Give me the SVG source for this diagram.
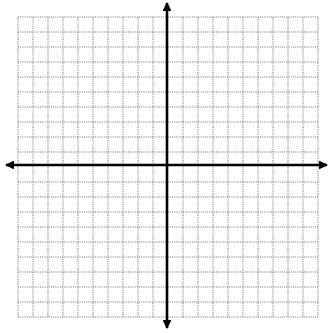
<svg xmlns="http://www.w3.org/2000/svg" width="330" height="333" viewBox="0 0 330 333">
<defs>
<style>
.g{stroke:#707070;stroke-width:1;stroke-dasharray:1 1.2;fill:none}
.ax{stroke:#000;stroke-width:2.6;fill:none}
</style>
<marker id="ah" viewBox="0 0 10 10" refX="9" refY="5" markerWidth="3.4" markerHeight="3.4" orient="auto-start-reverse" markerUnits="strokeWidth">
<path d="M0,0 L10,5 L0,10 Z" fill="#000"/>
</marker>
</defs>
<rect width="330" height="333" fill="#fff"/>
<g id="grid">
<path class="g" d="M18,17V317M33,17V317M48,17V317M63,17V317M78,17V317M93,17V317M108,17V317M123,17V317M138,17V317M153,17V317M183,17V317M198,17V317M213,17V317M228,17V317M243,17V317M258,17V317M273,17V317M288,17V317M303,17V317M318,17V317"/>
<path class="g" d="M18,17H318M18,32H318M18,47H318M18,62H318M18,77H318M18,92H318M18,107H318M18,122H318M18,137H318M18,152H318M18,182H318M18,197H318M18,212H318M18,227H318M18,242H318M18,257H318M18,272H318M18,287H318M18,302H318M18,317H318"/>
</g>
<g id="connectors">
<path class="ax" d="M6,165H327" marker-start="url(#ah)" marker-end="url(#ah)"/>
<path class="ax" d="M167,3V328" marker-start="url(#ah)" marker-end="url(#ah)"/>
</g>
</svg>
